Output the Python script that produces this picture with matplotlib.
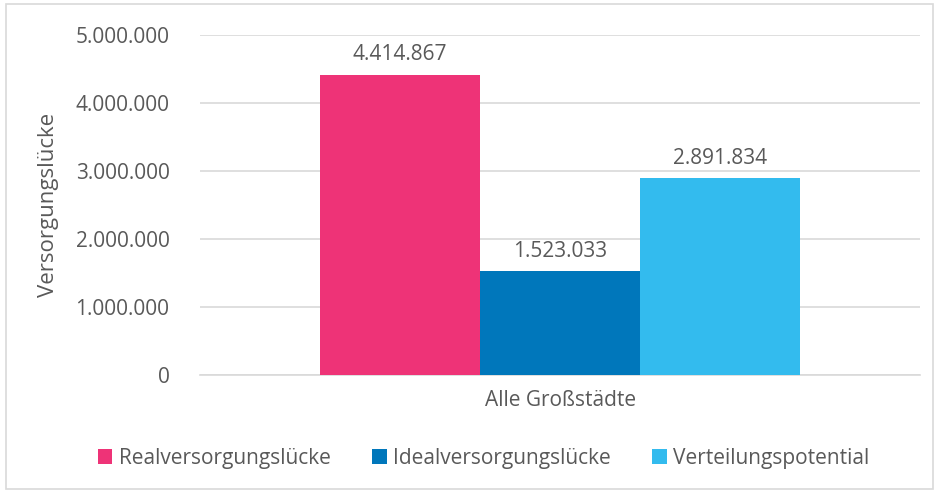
import matplotlib.pyplot as plt
from matplotlib.patches import Rectangle
from matplotlib.ticker import FuncFormatter

category = 'Alle Großstädte'
series = ['Realversorgungslücke', 'Idealversorgungslücke', 'Verteilungspotential']
values = [4414867, 1523033, 2891834]
colors = ['#EE3377', '#0077BB', '#33BBEE']
y_ticks = [0, 1000000, 2000000, 3000000, 4000000, 5000000]

text_color = '#595959'
plt.rcParams['font.family'] = ['Open Sans', 'DejaVu Sans']


def de_format(v, pos=None):
    return f'{int(v):,}'.replace(',', '.')


fig = plt.figure(figsize=(9.39, 4.92), dpi=100)
ax = fig.add_axes([0.213, 0.238, 0.767, 0.691])

# Rahmen um die ganze Grafik
fig.patches.append(Rectangle((0.006, 0.006), 0.988, 0.986, transform=fig.transFigure,
                             fill=False, edgecolor='#D9D9D9', linewidth=1.2))

width = 0.2222
offsets = [-width, 0, width]
for name, val, col, off in zip(series, values, colors, offsets):
    bar = ax.bar(off, val, width=width, color=col, label=name, zorder=3)
    ax.bar_label(bar, labels=[de_format(val)], padding=7, fontsize=15, color=text_color)

ax.set_xlim(-0.5, 0.5)
ax.set_ylim(0, 5000000)
ax.set_yticks(y_ticks)
ax.yaxis.set_major_formatter(FuncFormatter(de_format))
ax.set_xticks([0])
ax.set_xticklabels([category])
ax.tick_params(axis='both', length=0, labelsize=15, labelcolor=text_color)
ax.tick_params(axis='y', pad=22)
ax.tick_params(axis='x', pad=11)
ax.grid(axis='y', color='#D9D9D9', linewidth=1.2, zorder=0)
for s in ['top', 'right', 'left']:
    ax.spines[s].set_visible(False)
ax.spines['bottom'].set_color('#D9D9D9')
ax.spines['bottom'].set_linewidth(1.2)

ax.set_ylabel('Versorgungslücke', fontsize=16, color=text_color, labelpad=12)

fig.legend(loc='center', bbox_to_anchor=(0.515, 0.068), ncol=3, frameon=False,
           fontsize=15, labelcolor=text_color, handlelength=0.7, handleheight=0.7,
           handletextpad=0.3, columnspacing=2.0)

plt.savefig('out.png', dpi=100)
plt.close(fig)
